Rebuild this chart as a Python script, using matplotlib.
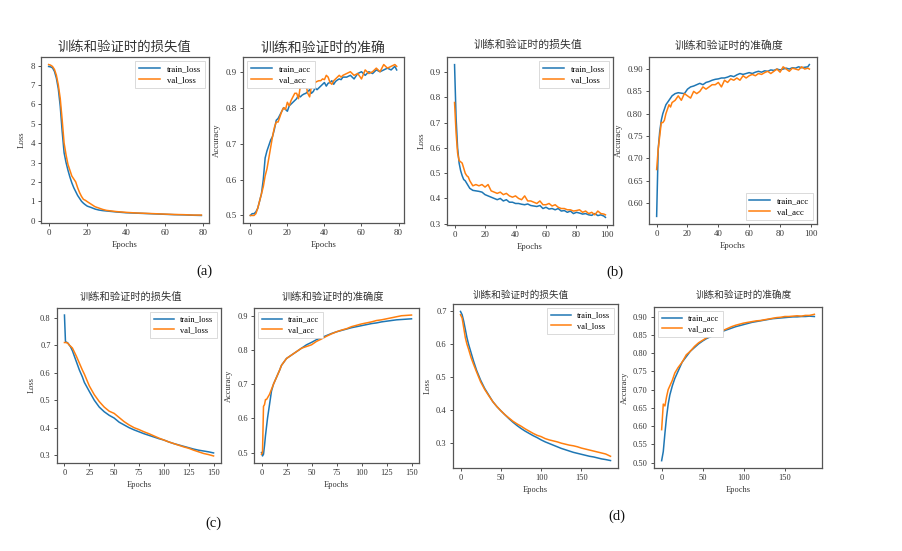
import matplotlib
matplotlib.use("Agg")
import matplotlib.pyplot as plt

plt.rcParams['font.family'] = ['Liberation Serif', 'Noto Sans CJK SC']

W, H = 902, 551

# ---------------- data ----------------
# (a) loss
a_loss_ep = [0,1,2,3,4,5,6,7,8,9,10,11,12,13,14,15,16,17,18,19,20,22,24,26,28,30,35,40,45,50,55,60,65,70,75,79]
a_train_loss = [7.95,7.93,7.88,7.7,7.35,6.8,5.9,4.6,3.5,3.0,2.6,2.25,1.95,1.7,1.5,1.3,1.15,1.0,0.9,0.82,0.75,0.68,0.6,0.55,0.52,0.5,0.45,0.41,0.39,0.37,0.35,0.33,0.31,0.3,0.28,0.27]
a_val_loss = [8.05,8.02,7.95,7.8,7.5,7.0,6.3,5.2,4.0,3.4,2.9,2.6,2.3,2.15,2.0,1.7,1.45,1.25,1.1,1.05,0.98,0.85,0.72,0.65,0.58,0.53,0.47,0.43,0.4,0.38,0.36,0.34,0.32,0.31,0.29,0.29]

# (a) accuracy
a_acc_ep = list(range(0, 51)) + list(range(52, 79, 2)) + [79]
a_train_acc = [0.5,0.505,0.505,0.51,0.52,0.54,0.56,0.6,0.66,0.68,0.695,0.71,0.72,0.74,0.765,0.77,0.78,0.79,0.8,0.795,
               0.79,0.805,0.81,0.815,0.82,0.825,0.835,0.83,0.835,0.838,0.84,0.845,0.85,0.84,0.845,0.855,0.85,0.855,0.86,0.865,
               0.87,0.86,0.868,0.87,0.875,0.865,0.873,0.877,0.88,0.878,0.885,
               0.885,0.89,0.88,0.895,0.9,0.89,0.9,0.895,0.905,0.9,0.905,0.91,0.905,0.915,0.905]
a_val_acc = [0.5,0.5,0.5,0.505,0.52,0.54,0.56,0.58,0.61,0.63,0.66,0.69,0.72,0.745,0.76,0.76,0.775,0.79,0.8,0.795,
             0.815,0.805,0.82,0.83,0.84,0.84,0.825,0.86,0.865,0.86,0.865,0.84,0.83,0.86,0.865,0.87,0.873,0.875,0.875,0.88,
             0.878,0.89,0.885,0.87,0.865,0.875,0.88,0.885,0.89,0.885,0.89,
             0.895,0.9,0.89,0.895,0.88,0.905,0.895,0.9,0.91,0.9,0.92,0.91,0.915,0.92,0.915]

# (b)
b_ep = list(range(0, 11)) + list(range(12, 99, 2)) + [99]
b_train_loss = [0.93,0.72,0.6,0.54,0.51,0.49,0.475,0.47,0.46,0.45,0.44,
                0.432,0.43,0.428,0.425,0.415,0.41,0.405,0.4,0.395,0.4,0.39,0.395,0.385,0.385,0.38,0.38,0.377,0.375,0.378,0.372,
                0.37,0.368,0.372,0.36,0.365,0.358,0.36,0.355,0.36,0.35,0.352,0.345,0.35,0.34,0.345,0.342,0.338,0.34,0.335,0.333,
                0.34,0.332,0.335,0.33,0.325]
b_val_loss = [0.78,0.66,0.58,0.55,0.545,0.54,0.52,0.5,0.49,0.485,0.47,
              0.45,0.455,0.45,0.455,0.445,0.455,0.43,0.425,0.42,0.425,0.415,0.42,0.41,0.405,0.41,0.4,0.395,0.41,0.39,0.39,
              0.385,0.38,0.39,0.375,0.375,0.38,0.37,0.375,0.365,0.36,0.36,0.355,0.355,0.35,0.352,0.355,0.345,0.35,0.34,0.345,
              0.335,0.35,0.34,0.338,0.335]
b_train_acc = [0.57,0.72,0.76,0.785,0.8,0.81,0.82,0.825,0.83,0.835,0.84,
               0.845,0.847,0.846,0.845,0.855,0.86,0.862,0.865,0.868,0.865,0.87,0.872,0.875,0.877,0.878,0.88,0.88,0.882,0.885,0.883,
               0.887,0.89,0.888,0.89,0.892,0.89,0.893,0.895,0.893,0.896,0.895,0.898,0.897,0.9,0.898,0.9,0.902,0.9,0.903,0.902,
               0.905,0.903,0.904,0.905,0.91]
b_val_acc = [0.675,0.72,0.75,0.78,0.78,0.785,0.8,0.81,0.82,0.815,0.825,
             0.83,0.84,0.83,0.845,0.84,0.835,0.85,0.845,0.85,0.86,0.855,0.86,0.865,0.865,0.87,0.86,0.875,0.87,0.878,0.875,
             0.88,0.875,0.885,0.88,0.885,0.888,0.885,0.89,0.888,0.892,0.895,0.89,0.895,0.9,0.893,0.905,0.9,0.895,0.902,0.9,
             0.898,0.905,0.9,0.902,0.9]

# (c)
c_ep = [0,1,2,3,4,5,6,8,10,12,15,18,20,25,30,35,40,45,50,55,60,65,70,75,80,85,90,95,100,105,110,115,120,125,130,135,140,145,150]
c_train_loss = [0.81,0.715,0.71,0.71,0.705,0.7,0.695,0.68,0.66,0.64,0.61,0.585,0.565,0.532,0.5,0.475,0.458,0.445,0.435,0.42,
                0.41,0.4,0.392,0.385,0.378,0.372,0.366,0.36,0.355,0.348,0.342,0.337,0.332,0.327,0.322,0.318,0.315,0.312,0.308]
c_val_loss = [0.71,0.71,0.71,0.708,0.705,0.7,0.697,0.69,0.675,0.66,0.635,0.61,0.595,0.552,0.52,0.495,0.475,0.46,0.452,0.437,
              0.422,0.41,0.4,0.393,0.385,0.378,0.37,0.362,0.355,0.348,0.342,0.336,0.33,0.325,0.318,0.312,0.306,0.302,0.297]
c_train_acc = [0.5,0.49,0.495,0.52,0.55,0.575,0.6,0.64,0.68,0.7,0.72,0.74,0.755,0.775,0.785,0.795,0.805,0.815,0.822,0.83,
               0.836,0.842,0.848,0.853,0.857,0.861,0.865,0.868,0.871,0.874,0.877,0.879,0.882,0.884,0.886,0.888,0.889,0.89,0.891]
c_val_acc = [0.495,0.5,0.635,0.64,0.655,0.655,0.66,0.67,0.685,0.7,0.72,0.74,0.755,0.775,0.785,0.795,0.805,0.81,0.815,0.825,
             0.832,0.84,0.847,0.853,0.858,0.862,0.868,0.872,0.876,0.879,0.882,0.886,0.888,0.891,0.894,0.897,0.9,0.901,0.902]

# (d)
d_ep = [0,2,4,6,8,10,13,16,20,25,30,35,40,45,50,55,60,65,70,75,80,85,90,95,100,105,110,115,120,125,130,135,140,145,150,155,160,165,170,175,180,186]
d_train_loss = [0.70,0.69,0.67,0.645,0.62,0.60,0.575,0.55,0.52,0.49,0.465,0.445,0.425,0.41,0.397,0.385,0.373,0.362,0.352,0.343,
                0.335,0.328,0.321,0.315,0.308,0.302,0.297,0.292,0.287,0.282,0.278,0.274,0.27,0.267,0.264,0.261,0.258,0.256,0.253,0.25,0.248,0.245]
d_val_loss = [0.69,0.68,0.65,0.62,0.6,0.585,0.56,0.54,0.515,0.485,0.462,0.443,0.425,0.41,0.397,0.385,0.375,0.365,0.357,0.35,
              0.342,0.335,0.328,0.322,0.318,0.312,0.308,0.305,0.302,0.298,0.295,0.292,0.29,0.287,0.283,0.28,0.277,0.274,0.271,0.268,0.265,0.258]
d_train_acc = [0.505,0.53,0.58,0.625,0.66,0.685,0.71,0.73,0.75,0.775,0.79,0.805,0.815,0.825,0.833,0.84,0.845,0.85,0.855,0.86,
               0.864,0.868,0.872,0.875,0.878,0.881,0.884,0.886,0.888,0.89,0.892,0.894,0.895,0.896,0.897,0.898,0.899,0.899,0.9,0.9,0.901,0.9]
d_val_acc = [0.59,0.66,0.655,0.68,0.7,0.71,0.725,0.745,0.76,0.775,0.795,0.805,0.818,0.828,0.835,0.842,0.848,0.853,0.858,0.862,
             0.867,0.872,0.876,0.879,0.882,0.884,0.886,0.888,0.889,0.891,0.893,0.895,0.897,0.898,0.9,0.9,0.901,0.902,0.901,0.903,0.903,0.906]

title_loss = "训练和验证时的损失值"
title_acc_short = "训练和验证时的准确"
title_acc = "训练和验证时的准确度"
panel_labels = ["(a)", "(b)", "(c)", "(d)"]

BLUE = "#1f77b4"
ORANGE = "#ff7f0e"

fig = plt.figure(figsize=(W / 100, H / 100), dpi=100)
fig.patch.set_facecolor("white")


def add_ax(l, t, r, b):
    return fig.add_axes([l / W, 1 - b / H, (r - l) / W, (b - t) / H])


def panel(box, ep1, y1, ep2, y2, names, ylabel, legend_loc, fs, title, tpos, tfs,
          xticks=None, yticks=None, yfmt=None):
    ax = add_ax(*box)
    ax.plot(ep1, y1, color=BLUE, lw=1.1, label=names[0])
    ax.plot(ep2, y2, color=ORANGE, lw=1.1, label=names[1])
    if xticks is not None:
        ax.set_xticks(xticks)
    if yticks is not None:
        ax.set_yticks(yticks)
        if yfmt:
            ax.set_yticklabels([yfmt.format(v) for v in yticks])
    ax.tick_params(labelsize=fs, length=2.5, width=0.6, pad=2, colors="#333")
    for s in ax.spines.values():
        s.set_color("#555")
        s.set_linewidth(0.9)
    ax.set_xlabel("Epochs", fontsize=fs, labelpad=3, color="#333")
    ax.set_ylabel(ylabel, fontsize=fs, labelpad=3, color="#333")
    leg = ax.legend(loc=legend_loc, fontsize=fs, handlelength=2.4, borderpad=0.4,
                    labelspacing=0.35, fancybox=False, framealpha=1)
    leg.get_frame().set_linewidth(0.5)
    fig.text(tpos[0] / W, 1 - tpos[1] / H, title, ha="center", va="center",
             fontsize=tfs, color="#333", family=['Noto Sans CJK SC', 'DejaVu Sans'])
    return ax


# (a)
panel((41, 57, 209, 223), a_loss_ep, a_train_loss, a_loss_ep, a_val_loss,
      ("train_loss", "val_loss"), "Loss", "upper right", 6.3,
      title_loss, (124.5, 47), 9.6, xticks=[0, 20, 40, 60, 80], yticks=[0, 1, 2, 3, 4, 5, 6, 7, 8])
panel((243, 57, 404, 223), a_acc_ep, a_train_acc, a_acc_ep, a_val_acc,
      ("train_acc", "val_acc"), "Accuracy", "upper left", 6.3,
      title_acc_short, (323, 48), 10, xticks=[0, 20, 40, 60, 80], yticks=[0.5, 0.6, 0.7, 0.8, 0.9])
# (b)
panel((447, 57, 613, 225), b_ep, b_train_loss, b_ep, b_val_loss,
      ("train_loss", "val_loss"), "Loss", "upper right", 6.3,
      title_loss, (527.5, 45), 7.8, xticks=[0, 20, 40, 60, 80, 100], yticks=[0.3, 0.4, 0.5, 0.6, 0.7, 0.8, 0.9])
panel((649, 57, 817, 224), b_ep, b_train_acc, b_ep, b_val_acc,
      ("train_acc", "val_acc"), "Accuracy", "lower right", 6.3,
      title_acc, (729, 45), 7.8, xticks=[0, 20, 40, 60, 80, 100],
      yticks=[0.60, 0.65, 0.70, 0.75, 0.80, 0.85, 0.90], yfmt="{:.2f}")
# (c)
panel((57, 308, 221, 463), c_ep, c_train_loss, c_ep, c_val_loss,
      ("train_loss", "val_loss"), "Loss", "upper right", 6,
      title_loss, (130.5, 297), 7.4, xticks=[0, 25, 50, 75, 100, 125, 150], yticks=[0.3, 0.4, 0.5, 0.6, 0.7, 0.8])
panel((254, 308, 419, 463), c_ep, c_train_acc, c_ep, c_val_acc,
      ("train_acc", "val_acc"), "Accuracy", "upper left", 6,
      title_acc, (332.5, 297), 7.4, xticks=[0, 25, 50, 75, 100, 125, 150], yticks=[0.5, 0.6, 0.7, 0.8, 0.9])
# (d)
panel((453, 304, 618, 468), d_ep, d_train_loss, d_ep, d_val_loss,
      ("train_loss", "val_loss"), "Loss", "upper right", 6,
      title_loss, (521, 295), 6.9, xticks=[0, 50, 100, 150], yticks=[0.3, 0.4, 0.5, 0.6, 0.7])
panel((654, 307, 822, 468), d_ep, d_train_acc, d_ep, d_val_acc,
      ("train_acc", "val_acc"), "Accuracy", "upper left", 6,
      title_acc, (744, 295), 6.9, xticks=[0, 50, 100, 150],
      yticks=[0.50, 0.55, 0.60, 0.65, 0.70, 0.75, 0.80, 0.85, 0.90], yfmt="{:.2f}")

label_pos = [(204, 271), (615, 272), (213, 523), (617, 516)]
for lab, (x, y) in zip(panel_labels, label_pos):
    fig.text(x / W, 1 - y / H, lab, ha="center", va="center", fontsize=10.5, color="#111")

fig.savefig("out.png", dpi=100, facecolor="white")
